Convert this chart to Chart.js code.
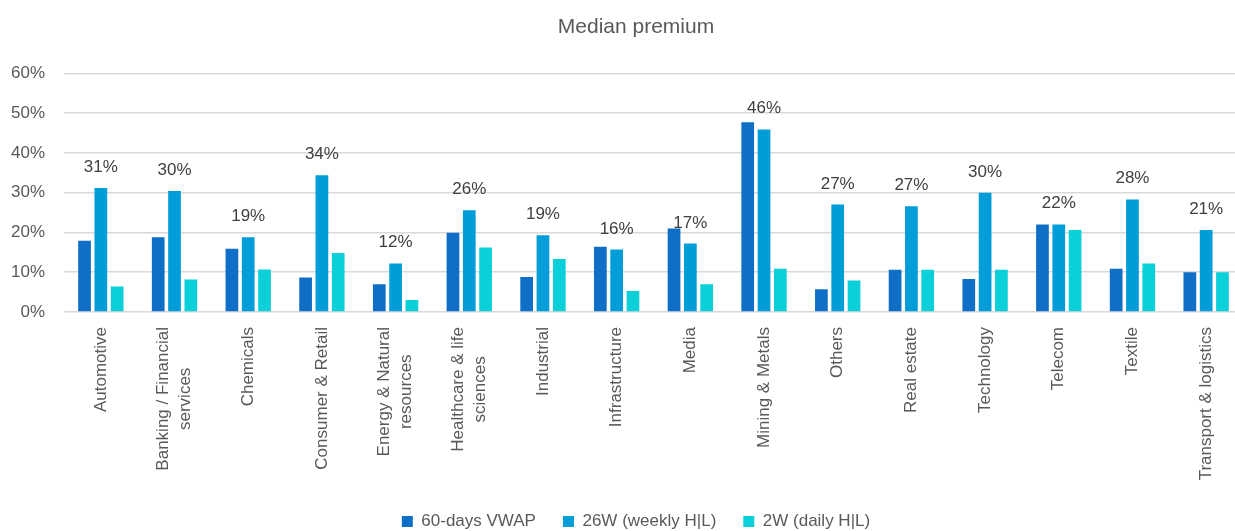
<!DOCTYPE html>
<html>
<head>
<meta charset="utf-8">
<script src="https://cdn.jsdelivr.net/npm/chart.js@4.4.1/dist/chart.umd.min.js"></script>
<style>
html,body{margin:0;padding:0;width:1235px;height:531px;overflow:hidden;background:#fff}
#wrap{position:absolute;left:0;top:0;width:1268px;height:531px}
</style>
</head>
<body>
<div id="wrap"><canvas id="c" width="1268" height="531"></canvas></div>
<script>
const chartTitle = 'Median premium';
const categories = [
  'Automotive',
  ['Banking / Financial', 'services'],
  'Chemicals',
  'Consumer & Retail',
  ['Energy & Natural', 'resources'],
  ['Healthcare & life', 'sciences'],
  'Industrial',
  'Infrastructure',
  'Media',
  'Mining & Metals',
  'Others',
  'Real estate',
  'Technology',
  'Telecom',
  'Textile',
  'Transport & logistics'
];
const seriesNames = ['60-days VWAP', '26W (weekly H|L)', '2W (daily H|L)'];
const vwap60   = [17.9, 18.8, 15.9, 8.7, 7.0, 19.9, 8.8, 16.4, 21.0, 47.7, 5.7, 10.6, 8.3, 22.0, 10.9, 10.0];
const weekly26 = [31.2, 30.4, 18.8, 34.4, 12.2, 25.6, 19.3, 15.7, 17.2, 45.9, 27.0, 26.6, 30.0, 22.0, 28.3, 20.6];
const daily2   = [6.4, 8.2, 10.7, 14.8, 3.0, 16.2, 13.3, 5.3, 7.0, 10.9, 7.9, 10.6, 10.6, 20.6, 12.2, 10.0];
const yTicks = [0, 10, 20, 30, 40, 50, 60];

const FONT = '"Liberation Sans", Arial, sans-serif';
const colors = ['#0F6FC6', '#009DD9', '#0BD0D9'];

// Center multi-line rotated category labels like the original
const centerLabels = {
  id: 'centerLabels',
  beforeDraw(chart) {
    const s = chart.scales.x;
    const items = s.getLabelItems(chart.chartArea);
    const ctx = chart.ctx;
    items.forEach(it => {
      if (it._c) return;
      it._c = true;
      if (Array.isArray(it.label) && it.label.length > 1) {
        ctx.save();
        ctx.font = it.font.string;
        const w = Math.max(...it.label.map(l => ctx.measureText(l).width));
        ctx.restore();
        it.options.textAlign = 'center';
        it.options.translation[1] += w / 2;
        it.options.translation[0] -= (it.label.length - 1) * it.font.lineHeight / 2;
      }
    });
  }
};

const valueLabels = {
  id: 'valueLabels',
  afterDatasetsDraw(chart) {
    const ctx = chart.ctx;
    const meta = chart.getDatasetMeta(1);
    ctx.save();
    ctx.font = '17px ' + FONT;
    ctx.fillStyle = '#404040';
    ctx.textAlign = 'center';
    ctx.textBaseline = 'alphabetic';
    meta.data.forEach((bar, i) => {
      ctx.fillText(Math.round(weekly26[i]) + '%', bar.x, bar.y - 16);
    });
    ctx.restore();
  }
};

new Chart(document.getElementById('c'), {
  type: 'bar',
  data: {
    labels: categories,
    datasets: [
      { label: seriesNames[0], data: vwap60, backgroundColor: colors[0] },
      { label: seriesNames[1], data: weekly26, backgroundColor: colors[1] },
      { label: seriesNames[2], data: daily2, backgroundColor: colors[2] }
    ]
  },
  options: {
    responsive: false,
    animation: false,
    devicePixelRatio: 1,
    categoryPercentage: 0.664,
    barPercentage: 0.78,
    layout: { padding: { left: 11, right: 7, top: 0, bottom: -9 } },
    plugins: {
      title: {
        display: true,
        text: chartTitle,
        color: '#595959',
        font: { family: FONT, size: 21, weight: 'normal' },
        padding: { top: 14.8, bottom: 33.3 }
      },
      legend: {
        position: 'bottom',
        labels: {
          boxWidth: 11,
          boxHeight: 11,
          padding: 27,
          color: '#595959',
          font: { family: FONT, size: 17 }
        }
      },
      tooltip: { enabled: false }
    },
    scales: {
      x: {
        grid: { display: false },
        border: { display: false },
        ticks: {
          autoSkip: false,
          minRotation: 90,
          maxRotation: 90,
          padding: 7,
          color: '#595959',
          font: { family: FONT, size: 17, lineHeight: 1.3 }
        },
        afterFit(s) { s.height = 174; }
      },
      y: {
        min: 0,
        max: 60,
        afterBuildTicks(s) { s.ticks = yTicks.map(v => ({ value: v })); },
        grid: { color: '#d9d9d9', lineWidth: 1.5, drawTicks: false },
        border: { display: false },
        ticks: {
          padding: 19,
          color: '#595959',
          font: { family: FONT, size: 17 },
          callback: v => v + '%'
        },
        afterFit(s) { s.width = 53; }
      },
      yR: {
        position: 'right',
        display: true,
        grid: { display: false },
        border: { display: false },
        ticks: { display: false },
        afterFit(s) { s.width = 18; }
      }
    }
  },
  plugins: [centerLabels, valueLabels]
});
</script>
</body>
</html>
